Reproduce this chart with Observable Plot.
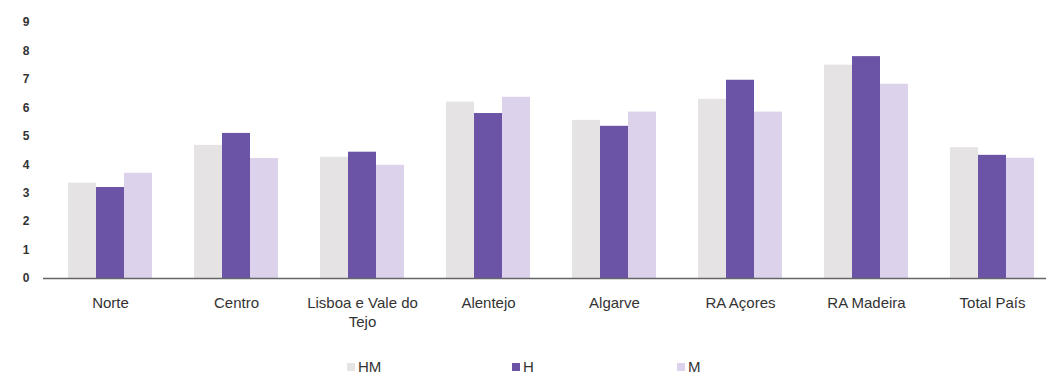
<!DOCTYPE html>
<html>
<head>
<meta charset="utf-8">
<script src="https://cdn.jsdelivr.net/npm/d3@7"></script>
<script src="https://cdn.jsdelivr.net/npm/@observablehq/plot@0.6"></script>
<style>
  html, body { margin: 0; padding: 0; background: #fff; }
  body { width: 1046px; height: 375px; position: relative; overflow: hidden; font-family: "Liberation Sans", Arial, sans-serif; }
  #legend { position: absolute; top: 358px; left: 347px; display: flex; font-size: 15px; line-height: 17px; color: #333; }
  #legend .item { width: 165px; display: flex; align-items: center; }
  #legend .sw { width: 8px; height: 8px; margin-right: 3px; display: inline-block; }
</style>
</head>
<body>
<div id="chart"></div>
<div id="legend"></div>
<script>
const categories = ["Norte", "Centro", "Lisboa e Vale do Tejo", "Alentejo", "Algarve", "RA Açores", "RA Madeira", "Total País"];
const seriesNames = ["HM", "H", "M"];
const valuesHM = [3.35, 4.68, 4.26, 6.2, 5.56, 6.3, 7.5, 4.6];
const valuesH  = [3.2, 5.1, 4.44, 5.8, 5.35, 6.97, 7.8, 4.33];
const valuesM  = [3.7, 4.22, 3.98, 6.37, 5.85, 5.85, 6.83, 4.23];
const colors = ["#e6e3e4", "#6b54a6", "#dcd2ec"];
const yTicks = [0, 1, 2, 3, 4, 5, 6, 7, 8, 9];

const seriesValues = [valuesHM, valuesH, valuesM];
const rows = s => categories.map((c, i) => ({category: c, value: seriesValues[s][i], series: seriesNames[s]}));
const bw = 28;

const plot = Plot.plot({
  width: 1046,
  height: 345,
  marginTop: 22,
  marginBottom: 67,
  marginLeft: 43,
  marginRight: 0,
  style: {fontFamily: "'Liberation Sans', Arial, sans-serif", fontSize: "15px", color: "#333", background: "#fff"},
  x: {domain: categories, range: [22, 1079], padding: 0.337, label: null},
  y: {domain: [0, 9], label: null},
  marks: [
    Plot.barY(rows(0), {x: "category", y: "value", fill: colors[0], insetLeft: 0, insetRight: 2 * bw}),
    Plot.barY(rows(1), {x: "category", y: "value", fill: colors[1], insetLeft: bw, insetRight: bw}),
    Plot.barY(rows(2), {x: "category", y: "value", fill: colors[2], insetLeft: 2 * bw, insetRight: 0}),
    Plot.ruleY([0], {stroke: "#666", strokeWidth: 1.5}),
    Plot.axisY({ticks: yTicks, tickSize: 0, tickPadding: 14, fontSize: 12, fontWeight: "bold", fill: "#333", label: null}),
    Plot.axisX({tickSize: 0, tickPadding: 16, fontSize: 15, lineHeight: 1.25, fill: "#333", label: null,
      tickFormat: d => d === "Lisboa e Vale do Tejo" ? "Lisboa e Vale do\nTejo" : d})
  ]
});
document.getElementById("chart").appendChild(plot);

const legend = document.getElementById("legend");
seriesNames.forEach((name, i) => {
  const item = document.createElement("div");
  item.className = "item";
  const sw = document.createElement("span");
  sw.className = "sw";
  sw.style.background = colors[i];
  item.appendChild(sw);
  item.appendChild(document.createTextNode(name));
  legend.appendChild(item);
});
</script>
</body>
</html>
